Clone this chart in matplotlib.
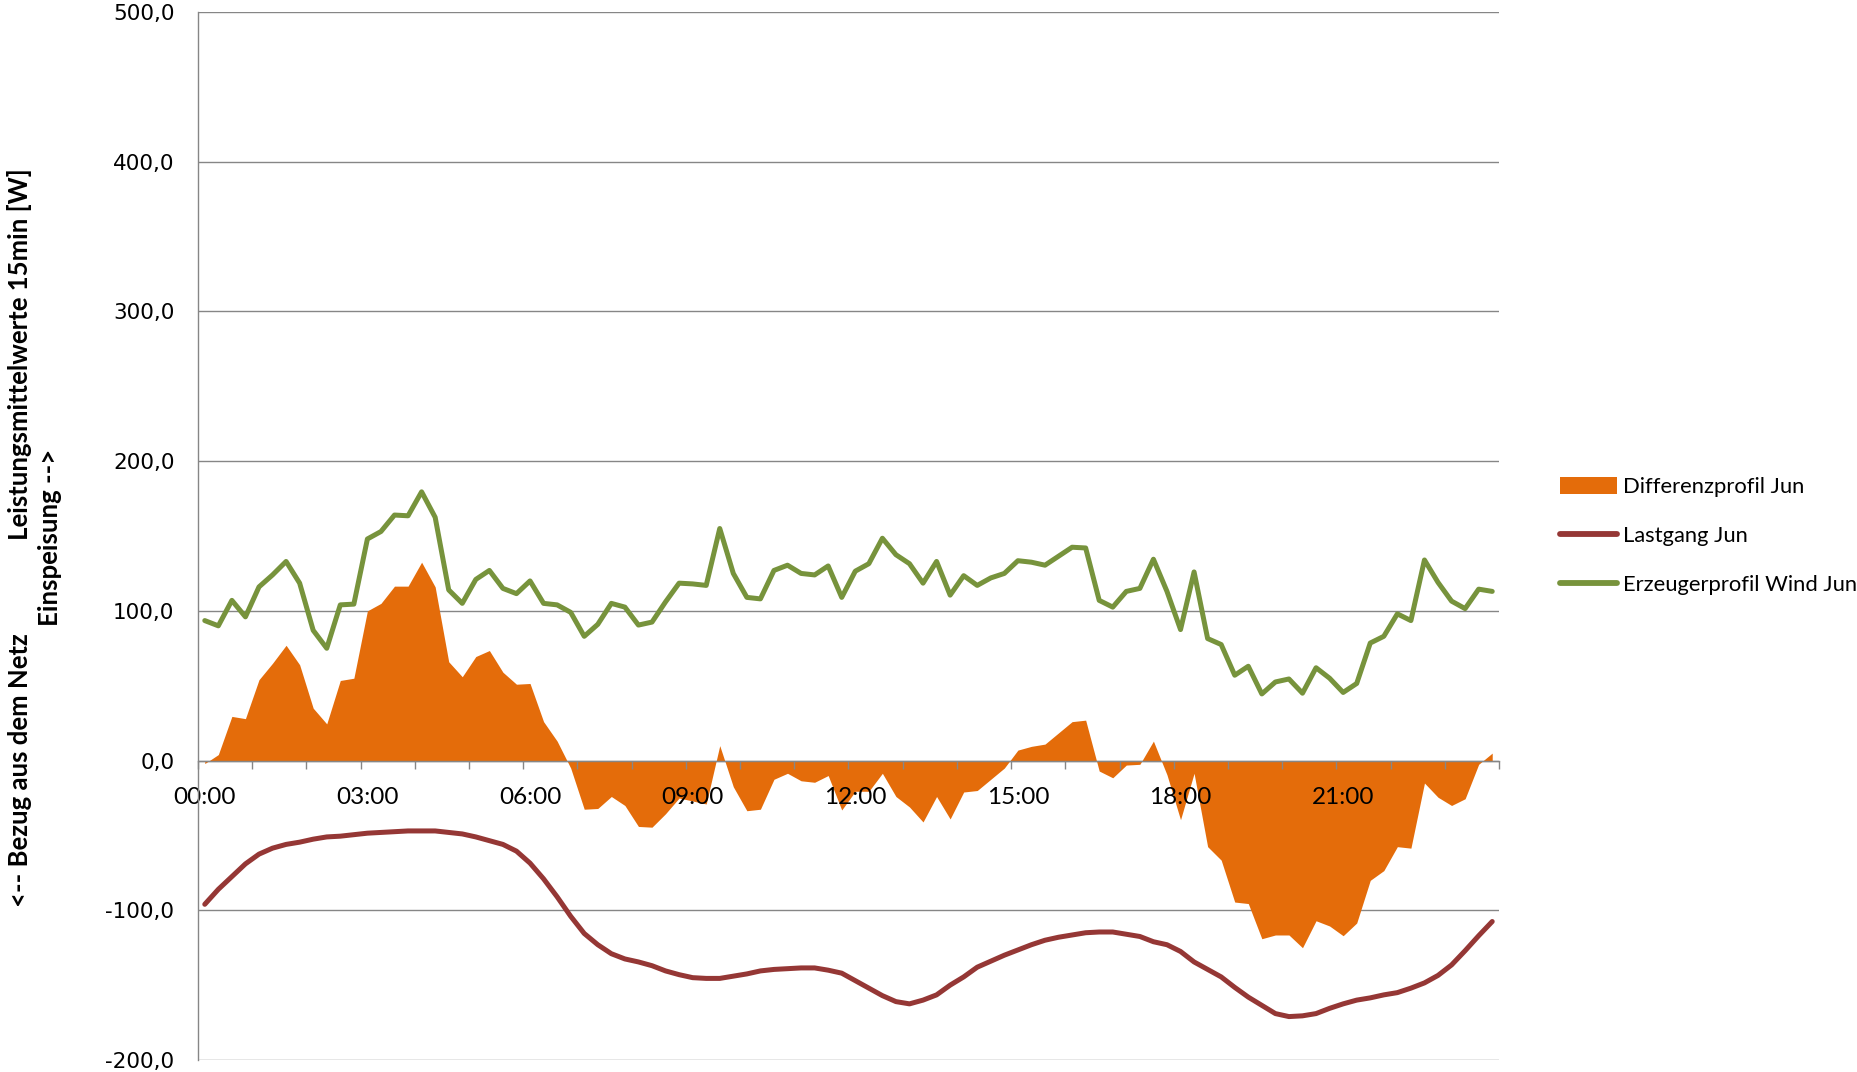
import matplotlib

matplotlib.use("Agg")
import matplotlib.pyplot as plt
from matplotlib.lines import Line2D
from matplotlib.patches import Patch

# 15-Minuten-Mittelwerte eines Tages (96 Werte)
zeit_labels = ["00:00", "03:00", "06:00", "09:00", "12:00", "15:00", "18:00", "21:00"]

wind = [
    93.5, 90, 107, 96, 116, 124, 133, 118.5, 87, 75, 104, 104.5,
    148, 153, 164, 163.5, 179.5, 162.5, 114, 105, 121, 127, 115, 111.5,
    120, 105, 104, 99, 83, 91, 105, 102.5, 90.5, 92.5, 106, 118.5,
    118, 117, 155, 125, 109, 108, 127, 130.5, 125, 124, 130, 109,
    126.5, 131.5, 148.5, 137.5, 131.5, 118.5, 133, 110.5, 123.5, 117, 122, 125,
    133.5, 132.5, 130.5, 136.5, 142.5, 142, 107, 102.5, 113, 115, 134.5, 113,
    87.5, 126, 81.5, 77.5, 57, 63, 44.5, 52.5, 54.5, 45, 62, 55,
    45.5, 51.5, 78.5, 83, 98, 93.5, 134, 119, 106.5, 101.5, 114.5, 113,
]

differenz = [
    -2, 4, 29.5, 28, 54, 65, 77, 64, 35, 24.5, 53.5, 55,
    100, 105, 116.5, 116.5, 132.5, 116, 66, 56, 69.5, 73.5, 59, 51,
    51.5, 26, 13, -5, -32.5, -32, -24, -30, -44, -44.5, -35.5, -25,
    -27, -29, 10, -17.5, -33.5, -32.5, -12.5, -8.5, -13.5, -14.5, -10, -33,
    -20.5, -20.5, -8.5, -24, -31, -41, -24, -39, -21, -20, -12.5, -5,
    7, 9.5, 11, 18.5, 26, 27, -7, -11.5, -3, -2.5, 13, -9.5,
    -39.5, -8.5, -57.5, -66.5, -94.5, -95.5, -119, -116.5, -116.5, -125, -107, -110.5,
    -117, -108.5, -80, -73.5, -57.5, -58.5, -15, -24.5, -30, -25.5, -2.5, 5,
]

lastgang = [
    -96, -86, -77.5, -69, -62.5, -58.5, -56, -54.5, -52.5, -51, -50.5, -49.5,
    -48.5, -48, -47.5, -47, -47, -47, -48, -49, -51, -53.5, -56, -60.5,
    -68.5, -79, -91, -104, -115.5, -123, -129, -132.5, -134.5, -137, -140.5, -143,
    -145, -145.5, -145.5, -144, -142.5, -140.5, -139.5, -139, -138.5, -138.5, -140, -142,
    -147, -152, -157, -161, -162.5, -160, -156.5, -150, -144.5, -138, -134, -130,
    -126.5, -123, -120, -118, -116.5, -115, -114.5, -114.5, -116, -117.5, -121, -123,
    -127.5, -134.5, -139.5, -144.5, -151.5, -158, -163.5, -169, -171, -170.5, -169, -165.5,
    -162.5, -160, -158.5, -156.5, -155, -152, -148.5, -143.5, -136.5, -127, -117, -107.5,
]

y_ticks = [-200, -100, 0, 100, 200, 300, 400, 500]

ORANGE = "#E46C0A"
DUNKELROT = "#953735"
GRUEN = "#77933C"
GRAU = "#868686"

x = list(range(len(wind)))

fig = plt.figure(figsize=(18.58, 10.72), dpi=100)
ax = fig.add_axes([198 / 1858, 12 / 1072, 1301 / 1858, 1048 / 1072])

# Gitterlinien manuell, damit sie hinter der Fläche liegen
for yv in y_ticks:
    ax.axhline(yv, color=GRAU, lw=1.0, zorder=0.5)

ax.fill_between(x, differenz, 0, color=ORANGE, lw=0, zorder=1)
ax.plot(x, lastgang, color=DUNKELROT, lw=3.6, solid_capstyle="round",
        solid_joinstyle="round", zorder=2)
ax.plot(x, wind, color=GRUEN, lw=3.6, solid_capstyle="round",
        solid_joinstyle="round", zorder=2)

ax.set_xlim(-0.5, len(x) - 0.5)
ax.set_ylim(-200, 500)

for s in ("top", "right"):
    ax.spines[s].set_visible(False)
ax.spines["bottom"].set_position(("data", 0))
for s in ("bottom", "left"):
    ax.spines[s].set_color(GRAU)
    ax.spines[s].set_linewidth(1.0)
ax.spines["bottom"].set_zorder(3)

ax.set_yticks(y_ticks)
ax.set_yticklabels([f"{v:.1f}".replace(".", ",") for v in y_ticks],
                   fontsize=15.5, family="DejaVu Sans")
ax.tick_params(axis="y", length=0, pad=17)

ax.set_xticks(list(range(0, 96, 12)))
ax.set_xticklabels(zeit_labels, fontsize=17.5, family="Lato")
ax.set_xticks([-0.5 + 4 * k for k in range(25)], minor=True)
ax.tick_params(axis="x", which="major", length=0, pad=19)
ax.tick_params(axis="x", which="minor", length=6, width=1.0, color=GRAU, direction="out")

# Achsenbeschriftung in zwei Spalten
ylab = dict(rotation=90, ha="center", va="center", fontsize=18.5,
            fontweight="bold", family="Lato")
fig.text(20 / 1858, 1 - 354 / 1072, "Leistungsmittelwerte 15min [W]", **ylab)
fig.text(20 / 1858, 1 - 770 / 1072, "<-- Bezug aus dem Netz", **ylab)
fig.text(50 / 1858, 1 - 537 / 1072, "Einspeisung -->", **ylab)

handles = [
    Patch(facecolor=ORANGE, edgecolor="none"),
    Line2D([], [], color=DUNKELROT, lw=4.2, solid_capstyle="round"),
    Line2D([], [], color=GRUEN, lw=4.2, solid_capstyle="round"),
]
labels = ["Differenzprofil Jun", "Lastgang Jun", "Erzeugerprofil Wind Jun"]
fig.legend(handles, labels, loc="center left", bbox_to_anchor=(1560 / 1858, 0.5),
           frameon=False, prop={"family": "Lato", "size": 15.8},
           handlelength=2.6, handleheight=0.8, handletextpad=0.25,
           labelspacing=1.3, borderpad=0, borderaxespad=0)

fig.savefig("out.png", dpi=100)
